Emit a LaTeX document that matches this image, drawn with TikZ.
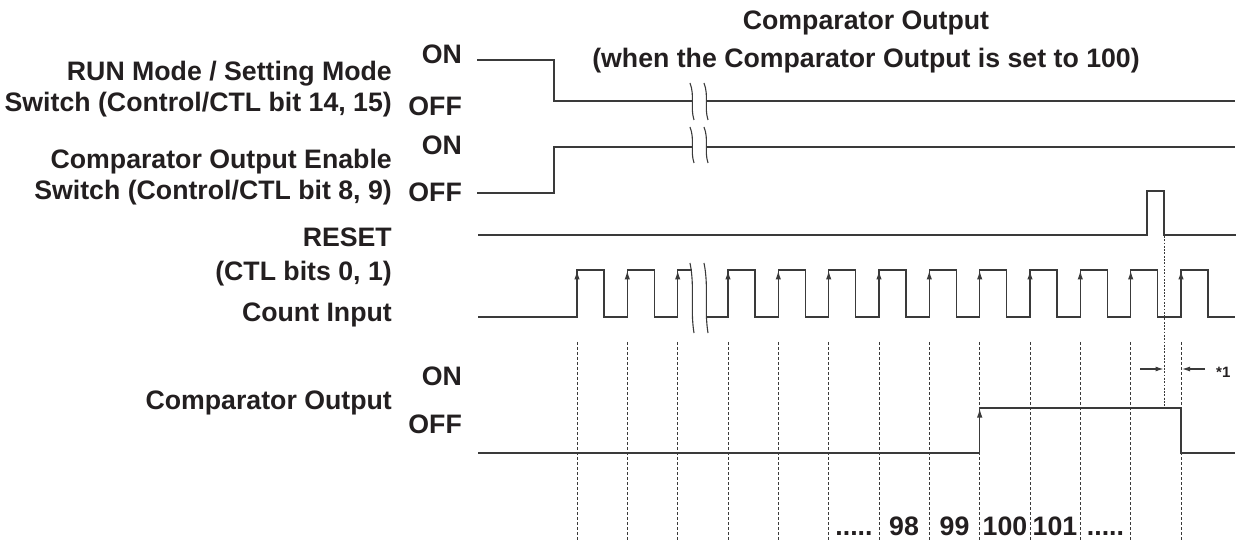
\documentclass[tikz,border=0pt]{standalone}
\usepackage{fontspec}
\setmainfont{Liberation Sans}
\usetikzlibrary{arrows.meta}
\definecolor{txt}{HTML}{231F20}
\definecolor{ln}{HTML}{3A3A3A}
\begin{document}
\begin{tikzpicture}[x=1bp,y=-1bp,
  lbl/.style={font=\fontsize{26.7bp}{30bp}\selectfont\bfseries, inner sep=0pt, text=txt},
  sig/.style={draw=ln, line width=1.4bp, line join=miter},
  edgearrow/.style={sig, -{Latex[length=9bp,width=5.5bp]}},
  grid/.style={draw=ln, line width=0.9bp, dash pattern=on 3bp off 2bp},
  dots/.style={draw=ln, line width=1bp, dash pattern=on 1.8bp off 1.5bp},
  brk/.style={draw=ln, line width=1.1bp},
  dimarrow/.style={draw=ln, line width=1.1bp, -{Latex[length=8bp,width=5bp]}}]
\useasboundingbox (0,0) rectangle (1237,541);

% ---- titles
\node[lbl, anchor=base] (t1) at (866,30) {Comparator Output};
\node[lbl, anchor=base] (t2) at (866,68) {(when the Comparator Output is set to 100)};

% ---- left labels
\node[lbl, anchor=base east] (l1a) at (392,81) {RUN Mode / Setting Mode};
\node[lbl, anchor=base east] (l1b) at (392,112) {Switch (Control/CTL bit 14, 15)};
\node[lbl, anchor=base east] (l2a) at (392,169) {Comparator Output Enable};
\node[lbl, anchor=base east] (l2b) at (392,200) {Switch (Control/CTL bit 8, 9)};
\node[lbl, anchor=base east] (l3a) at (392,247) {RESET};
\node[lbl, anchor=base east] (l3b) at (392,281) {(CTL bits 0, 1)};
\node[lbl, anchor=base east] (l4) at (392,322) {Count Input};
\node[lbl, anchor=base east] (l5) at (392,409) {Comparator Output};

% ---- ON/OFF labels
\node[lbl, anchor=base east] (on1) at (462,64) {ON};
\node[lbl, anchor=base east] (off1) at (462,116) {OFF};
\node[lbl, anchor=base east] (on2) at (462,155) {ON};
\node[lbl, anchor=base east] (off2) at (462,202) {OFF};
\node[lbl, anchor=base east] (on5) at (462,386) {ON};
\node[lbl, anchor=base east] (off5) at (462,433) {OFF};

% ---- RUN / Setting mode switch
\draw[sig] (477,60) -- (554,60) -- (554,101) -- (692,101);
\draw[sig] (706,101) -- (1235,101);
% ---- comparator output enable switch
\draw[sig] (477,193) -- (554,193) -- (554,147) -- (692,147);
\draw[sig] (706,147) -- (1235,147);
% ---- RESET
\draw[sig] (478,235) -- (1147,235) -- (1147,191) -- (1164,191) -- (1164,235) -- (1236,235);

% ---- count input
\draw[sig] (478,317) -- (577,317) -- (577,270) -- (604,270) -- (604,317)
  -- (627.3,317) -- (627.3,270) -- (654.3,270) -- (654.3,317)
  -- (677.7,317) -- (677.7,270) -- (692,270);
\draw[sig] (706,317) -- (728,317) -- (728,270) -- (755,270) -- (755,317)
  -- (778.3,317) -- (778.3,270) -- (805.3,270) -- (805.3,317)
  -- (828.7,317) -- (828.7,270) -- (855.7,270) -- (855.7,317)
  -- (879,317) -- (879,270) -- (906,270) -- (906,317)
  -- (929.3,317) -- (929.3,270) -- (956.3,270) -- (956.3,317)
  -- (979.7,317) -- (979.7,270) -- (1006.7,270) -- (1006.7,317)
  -- (1030,317) -- (1030,270) -- (1057,270) -- (1057,317)
  -- (1080.3,317) -- (1080.3,270) -- (1107.3,270) -- (1107.3,317)
  -- (1130.7,317) -- (1130.7,270) -- (1157.7,270) -- (1157.7,317)
  -- (1181,317) -- (1181,270) -- (1208,270) -- (1208,317) -- (1235,317);
\foreach \x in {577,627.3,677.7,728,778.3,828.7,879,929.3,979.7,1030,1080.3,1130.7,1181}
  \draw[edgearrow] (\x,317) -- (\x,270.5);

% ---- comparator output
\draw[sig] (478,453) -- (979.7,453) -- (979.7,408) -- (1181,408) -- (1181,453) -- (1235,453);
\draw[edgearrow] (979.7,453) -- (979.7,408.5);

% ---- break marks
\foreach \t/\b in {83/120,127/163,263/333}{
  \draw[brk] (690,\t) .. controls (695,\t+0.35*\b-0.35*\t) and (690,\t+0.65*\b-0.65*\t) .. (694,\b);
  \draw[brk] (704,\t) .. controls (709,\t+0.35*\b-0.35*\t) and (704,\t+0.65*\b-0.65*\t) .. (708,\b);
}

% ---- dashed count marks
\foreach \x in {577,627.3,677.7,728,778.3,828.7,879,929.3,979.7,1030,1080.3,1130.7,1181}
  \draw[grid] (\x,342) -- (\x,541);

% ---- reset to output dotted line
\draw[dots] (1164,236) -- (1164,408);

% ---- *1 dimension
\coordinate (d1s) at (1140,369);
\coordinate (d1e) at (1163.5,369);
\coordinate (d2s) at (1205,369);
\coordinate (d2e) at (1182,369);
\draw[dimarrow] (d1s) -- (d1e);
\draw[dimarrow] (d2s) -- (d2e);
\node[font=\fontsize{15bp}{17bp}\selectfont\bfseries, text=txt, inner sep=0pt, anchor=base west] (star) at (1216,378) {*1};

% ---- count numbers
\node[lbl, anchor=base] (n1) at (854,535) {.....};
\node[lbl, anchor=base] (n2) at (904,535) {98};
\node[lbl, anchor=base] (n3) at (954.5,535) {99};
\node[lbl, anchor=base] (n4) at (1005,535) {100};
\node[lbl, anchor=base] (n5) at (1055,535) {101};
\node[lbl, anchor=base] (n6) at (1105.5,535) {.....};
\end{tikzpicture}
\end{document}
